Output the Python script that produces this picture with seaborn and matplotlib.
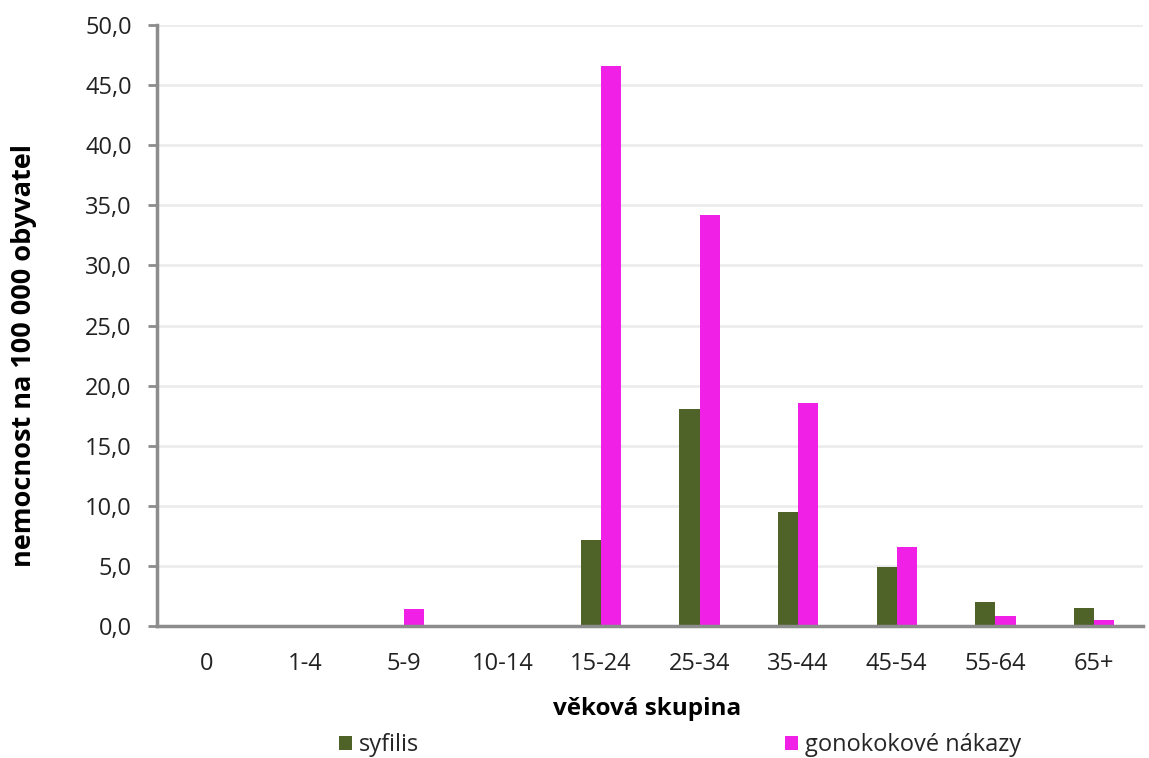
import numpy as np
import pandas as pd
import matplotlib.pyplot as plt
import seaborn as sns

groups = ["0", "1-4", "5-9", "10-14", "15-24", "25-34", "35-44", "45-54", "55-64", "65+"]
syfilis = [0.0, 0.0, 0.0, 0.0, 7.2, 18.1, 9.5, 4.9, 2.0, 1.5]
gono = [0.1, 0.1, 1.4, 0.1, 46.6, 34.2, 18.6, 6.6, 0.8, 0.5]
series = ["syfilis", "gonokokové nákazy"]
colors = ["#4f6228", "#f020e6"]

df = pd.DataFrame({
    "skupina": groups * 2,
    "nemoc": [series[0]] * len(groups) + [series[1]] * len(groups),
    "hodnota": syfilis + gono,
})

sns.set_theme(style="white")
plt.rcParams["font.family"] = ["Open Sans", "DejaVu Sans"]

fig = plt.figure(figsize=(11.49, 7.58), dpi=100)
ax = fig.add_axes([0.137, 0.174, 0.858, 0.793])
sns.barplot(data=df, x="skupina", y="hodnota", hue="nemoc", palette=colors,
            width=0.41, saturation=1, linewidth=0, ax=ax, legend=True)

yt = np.arange(0, 50.1, 5)
ax.set_ylim(0, 50)
ax.set_yticks(yt)
ax.set_yticklabels([f"{v:.1f}".replace(".", ",") for v in yt], fontsize=17, color="#222222")
ax.tick_params(axis="x", labelsize=17, labelcolor="#222222", length=0, pad=19)
ax.tick_params(axis="y", length=6.5, width=2, color="#8c8c8c", direction="out", left=True, pad=12)
ax.grid(axis="y", color="#ececec", linewidth=2)
ax.set_axisbelow(True)
for s in ["top", "right"]:
    ax.spines[s].set_visible(False)
for s in ["left", "bottom"]:
    ax.spines[s].set_color("#8c8c8c")
    ax.spines[s].set_linewidth(2.5)

ax.set_xlabel("věková skupina", fontsize=17.5, fontweight="bold", color="black")
ax.xaxis.set_label_coords(0.497, -0.118)
ax.xaxis.label.set_va("top")
ax.set_ylabel("nemocnost na 100 000 obyvatel", fontsize=19.5, fontweight="bold", color="black")
ax.yaxis.set_label_coords(-0.135, 0.45)
ax.yaxis.label.set_va("center")

ax.legend(loc="center", bbox_to_anchor=(0.53, -0.198), ncol=2, frameon=False,
          fontsize=17, handlelength=0.55, handleheight=0.55, handletextpad=0.3,
          columnspacing=15.5, borderpad=0)

plt.savefig("out.png", dpi=100)
